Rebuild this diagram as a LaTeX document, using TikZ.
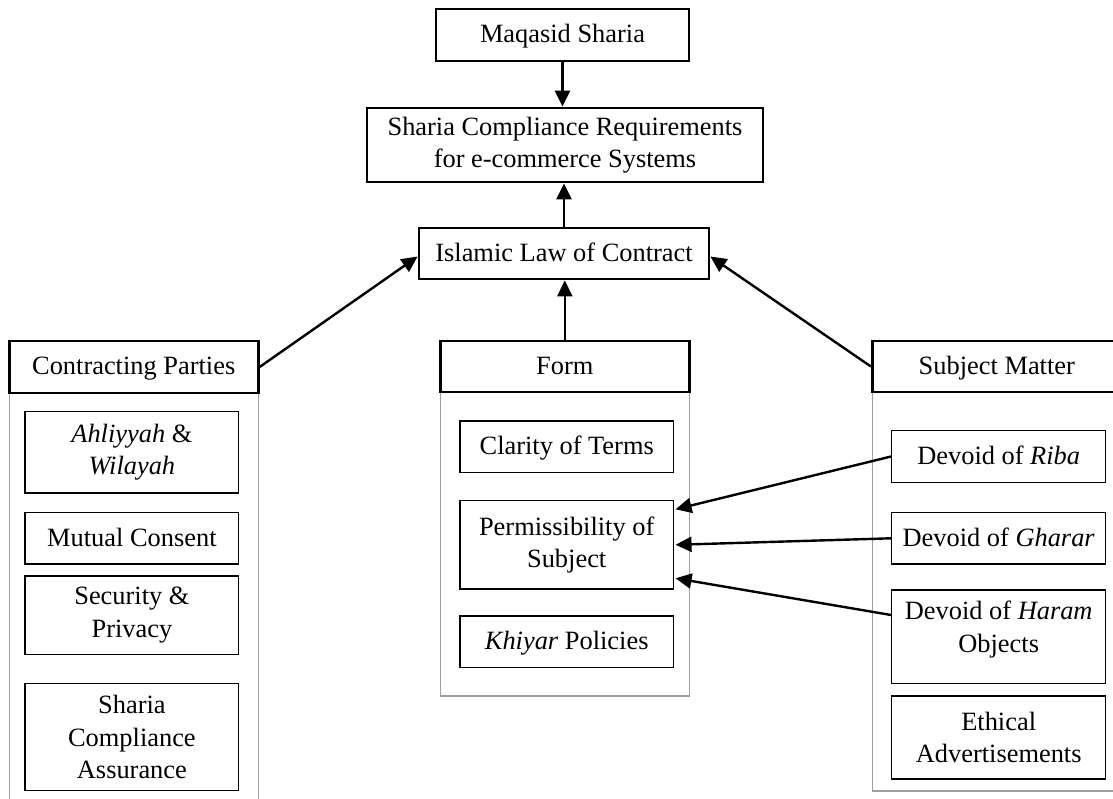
\documentclass[tikz,border=0pt]{standalone}
\usepackage{fontspec}
\setmainfont{Liberation Serif}
\usetikzlibrary{arrows.meta}
\begin{document}
\begin{tikzpicture}[x=1pt,y=-1pt,
  font=\fontsize{26.4}{32.5}\selectfont,
  thickbox/.style={draw, line width=2.8pt, inner sep=0pt, align=center, fill=white},
  thinbox/.style={draw, line width=1.4pt, inner sep=0pt, align=center, fill=white},
  oneline/.style={text height=19.8pt, text depth=4pt},
  panel/.style={draw=black!38, line width=1.2pt},
  arr/.style={line width=2.4pt, -{Triangle[length=16pt,width=15pt]}},
]
\useasboundingbox (0,0) rectangle (1113,799);
\clip (0,0) rectangle (1113,799);
% panels
\draw[panel] (9.3,392) rectangle (258.3,830);
\draw[panel] (440.7,392) rectangle (689.3,696);
\draw[panel] (872.7,392) rectangle (1140,791);
% top nodes
\node[thickbox, oneline, minimum width=253pt, minimum height=52pt] (ms) at (562.5,35) {Maqasid Sharia};
\node[thickbox, minimum width=396pt, minimum height=74pt] (scr) at (565,145) {Sharia Compliance Requirements\\for e-commerce Systems};
\node[thickbox, oneline, minimum width=290pt, minimum height=51pt] (ilc) at (564,253.5) {Islamic Law of Contract};
% headers
\node[thickbox, oneline, minimum width=249pt, minimum height=52pt] (cp) at (133.7,367) {Contracting Parties};
\node[thickbox, oneline, minimum width=249pt, minimum height=51pt] (form) at (564.8,366.5) {Form};
\node[thickbox, oneline, minimum width=249pt, minimum height=51pt] (sm) at (996.8,366.5) {Subject Matter};
% left column
\node[thinbox, minimum width=213.7pt, minimum height=81.3pt] (a1) at (131.9,452.3) {\textit{Ahliyyah} \&\\\textit{Wilayah}};
\node[thinbox, oneline, minimum width=213.7pt, minimum height=51.3pt] (a2) at (131.9,538.3) {Mutual Consent};
\node[thinbox, minimum width=213.7pt, minimum height=78.7pt] (a3) at (131.9,615.3) {Security \&\\Privacy};
\node[thinbox, minimum width=213.7pt, minimum height=107.4pt] (a4) at (131.9,737) {Sharia\\Compliance\\Assurance};
% form column
\node[thinbox, oneline, minimum width=213.3pt, minimum height=51.7pt] (b1) at (566.7,446.8) {Clarity of Terms};
\node[thinbox, minimum width=213.3pt, minimum height=88.3pt] (b2) at (566.7,544.8) {Permissibility of\\Subject};
\node[thinbox, oneline, minimum width=213.3pt, minimum height=51.3pt] (b3) at (566.7,641.7) {\textit{Khiyar} Policies};
% subject column
\node[thinbox, oneline, minimum width=214pt, minimum height=51.6pt] (c1) at (998.7,456.5) {Devoid of \textit{Riba}};
\node[thinbox, oneline, minimum width=214pt, minimum height=51.3pt] (c2) at (998.7,538.3) {Devoid of \textit{Gharar}};
\node[thinbox, minimum width=214pt, minimum height=93.3pt] (c3) at (998.7,636.7) {};
\node[align=center, inner sep=0pt] (c3t) at ([yshift=7pt]c3.center) {Devoid of \textit{Haram}\\Objects};
\node[thinbox, minimum width=214pt, minimum height=83pt] (c4) at (998.7,737.5) {Ethical\\Advertisements};
% connectors
\draw[arr] (ms.south) -- (ms.south |- scr.north);
\draw[arr] (ilc.north) -- (ilc.north |- scr.south);
\draw[arr] (form.north) -- (form.north |- ilc.south);
\draw[arr] (cp.east) -- ([yshift=-3pt]ilc.west);
\draw[arr] (sm.west) -- ([yshift=-3pt]ilc.east);
\draw[arr] (c1.west) -- ([yshift=35.5pt,xshift=1.5pt]b2.east);
\draw[arr] (c2.west) -- ([xshift=1.5pt]b2.east);
\draw[arr] ([yshift=21.7pt]c3.west) -- ([yshift=-33.5pt,xshift=1.5pt]b2.east);
\end{tikzpicture}
\end{document}
